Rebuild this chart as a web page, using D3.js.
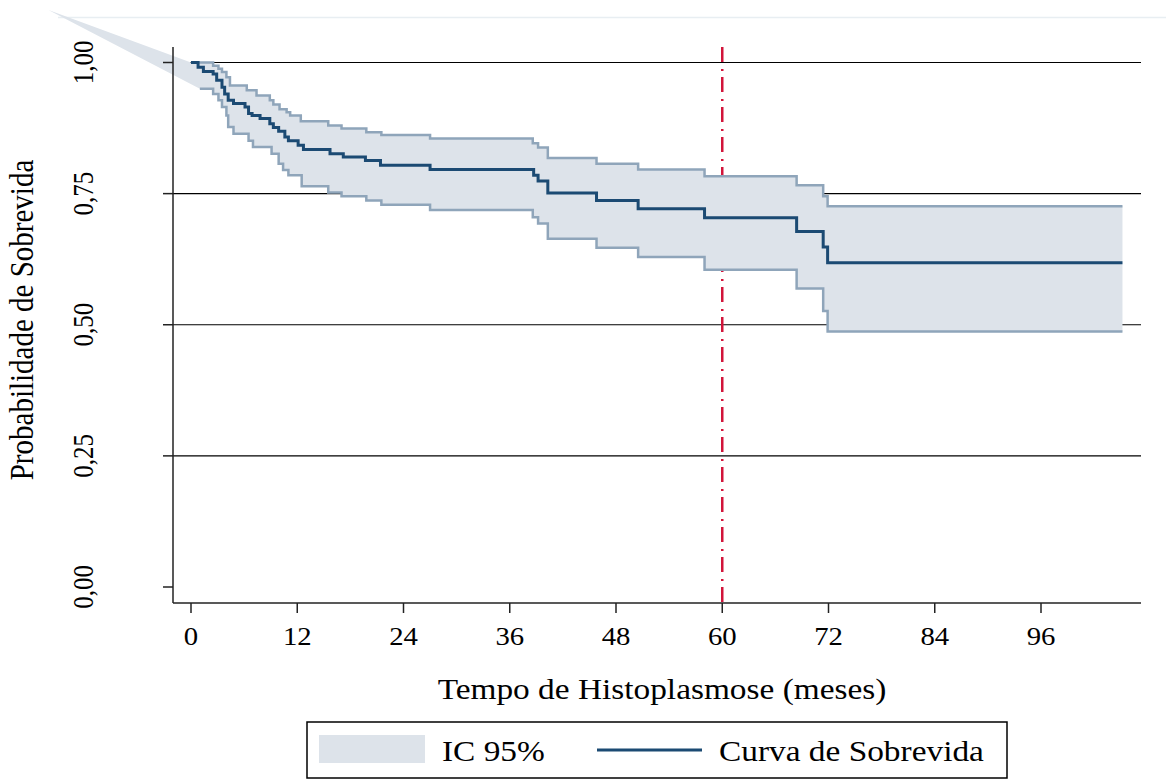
<!DOCTYPE html>
<html>
<head>
<meta charset="utf-8">
<script src="https://cdn.jsdelivr.net/npm/d3@7"></script>
<style>
  body { margin: 0; background: #fff; }
  text { font-family: "Liberation Serif", "Times New Roman", serif; fill: #000; }
</style>
</head>
<body>
<svg id="chart" width="1166" height="780"></svg>
<script>
// tempo (meses), probabilidade
var survival = [[0,1.0],[0.8,0.991],[1.4,0.983],[2.5,0.978],[2.9,0.966],[3.5,0.953],[3.8,0.940],[4.2,0.928],[4.8,0.922],[6.1,0.915],[6.5,0.903],[6.9,0.899],[7.8,0.893],[8.9,0.883],[9.3,0.876],[9.9,0.869],[10.6,0.858],[11.0,0.851],[12.1,0.842],[12.7,0.834],[15.7,0.826],[17.2,0.820],[19.7,0.813],[21.4,0.804],[27.0,0.796],[38.7,0.785],[39.2,0.774],[40.3,0.751],[45.8,0.737],[50.5,0.721],[58.0,0.704],[68.4,0.678],[71.4,0.648],[71.9,0.618],[105.2,0.618]]
var upperCI = [[0,1.0],[2.5,0.994],[3.1,0.988],[3.5,0.982],[4.0,0.972],[4.4,0.956],[6.3,0.947],[7.4,0.937],[8.9,0.928],[9.3,0.920],[10.0,0.911],[10.8,0.905],[11.2,0.899],[12.4,0.888],[15.5,0.880],[17.0,0.874],[19.8,0.867],[21.5,0.862],[27.0,0.855],[38.6,0.846],[39.2,0.838],[40.3,0.818],[45.8,0.807],[50.5,0.796],[58.0,0.783],[68.4,0.766],[71.4,0.745],[71.9,0.726],[105.2,0.726]]
var lowerCI = [[1.0,0.950],[2.5,0.940],[3.1,0.928],[3.5,0.915],[4.0,0.899],[4.2,0.877],[4.8,0.864],[6.5,0.851],[7.0,0.839],[9.1,0.826],[9.9,0.807],[10.4,0.795],[11.0,0.785],[12.5,0.764],[15.5,0.752],[17.0,0.745],[19.8,0.737],[21.5,0.729],[27.0,0.719],[38.6,0.705],[39.2,0.693],[40.3,0.664],[45.8,0.647],[50.5,0.629],[58.0,0.605],[68.4,0.569],[71.4,0.526],[71.9,0.487],[105.2,0.487]]
// ponto espurio de onde parte o poligono do IC
var ciOrigin = [-16.1, 1.1]
var xTicks = [0, 12, 24, 36, 48, 60, 72, 84, 96]
var yTicks = [0, 0.25, 0.5, 0.75, 1]
var gridValues = [0.25, 0.5, 0.75, 1]
var refLine = 60
var legendLabels = ['IC 95%', 'Curva de Sobrevida']

var ciFill = '#dde3ea', ciStroke = '#8fa5ba', curveColor = '#1b4a73', refColor = '#d2143a'
var sx = 1.15  // a figura original esta esticada na horizontal

var svg = d3.select('#chart')
var x = d3.scaleLinear().domain([0, 96]).range([191, 1041])
var y = d3.scaleLinear().domain([0, 1]).range([587, 62.5])
var plotLeft = 173, plotRight = 1141, plotBottom = 603, plotTop = 47

function fmt(v) { return d3.format('.2f')(v).replace('.', ',') }

function stepped(data) {
  var pts = []
  data.forEach(function (d, i) {
    if (i > 0) pts.push([d[0], data[i - 1][1]])
    pts.push(d)
  })
  return pts
}

// borda clara do plotregion
svg.append('line')
  .attr('x1', 58).attr('x2', 1166).attr('y1', 17.5).attr('y2', 17.5)
  .attr('stroke', '#e8eef2').attr('stroke-width', 1.5)

svg.append('g').selectAll('line').data(gridValues).join('line')
  .attr('x1', plotLeft).attr('x2', plotRight)
  .attr('y1', function (d) { return y(d) }).attr('y2', function (d) { return y(d) })
  .attr('stroke', '#000').attr('stroke-width', 1.2)

svg.append('line')
  .attr('x1', x(refLine)).attr('x2', x(refLine)).attr('y1', plotTop).attr('y2', plotBottom)
  .attr('stroke', refColor).attr('stroke-width', 2.5)
  .attr('stroke-dasharray', '15,7,2,6')

var poly = [ciOrigin].concat(stepped(upperCI), stepped(lowerCI).reverse())
svg.append('path')
  .attr('d', d3.line().x(function (d) { return x(d[0]) }).y(function (d) { return y(d[1]) })(poly) + 'Z')
  .attr('fill', ciFill)

var step = d3.line().curve(d3.curveStepAfter)
  .x(function (d) { return x(d[0]) }).y(function (d) { return y(d[1]) })

;[upperCI, lowerCI].forEach(function (s) {
  svg.append('path').attr('d', step(s))
    .attr('fill', 'none').attr('stroke', ciStroke).attr('stroke-width', 2.5)
})

svg.append('path').attr('d', step(survival))
  .attr('fill', 'none').attr('stroke', curveColor).attr('stroke-width', 3)

// eixos
var axisColor = '#222'
svg.append('line').attr('x1', plotLeft).attr('x2', plotLeft).attr('y1', plotTop).attr('y2', plotBottom)
  .attr('stroke', axisColor).attr('stroke-width', 1.5)
svg.append('line').attr('x1', plotLeft).attr('x2', plotRight).attr('y1', plotBottom).attr('y2', plotBottom)
  .attr('stroke', axisColor).attr('stroke-width', 1.5)

var yt = svg.append('g').selectAll('g').data(yTicks).join('g')
yt.append('line').attr('x1', plotLeft - 10).attr('x2', plotLeft)
  .attr('y1', function (d) { return y(d) }).attr('y2', function (d) { return y(d) })
  .attr('stroke', axisColor).attr('stroke-width', 1.5)
yt.append('text')
  .attr('transform', function (d) { return 'translate(93,' + y(d) + ') scale(' + sx + ',1) rotate(-90)' })
  .attr('text-anchor', 'middle').attr('font-size', 25)
  .text(fmt)

var xt = svg.append('g').selectAll('g').data(xTicks).join('g')
xt.append('line').attr('y1', plotBottom).attr('y2', plotBottom + 10)
  .attr('x1', function (d) { return x(d) }).attr('x2', function (d) { return x(d) })
  .attr('stroke', axisColor).attr('stroke-width', 1.5)
xt.append('text')
  .attr('transform', function (d) { return 'translate(' + x(d) + ',645) scale(' + sx + ',1)' })
  .attr('text-anchor', 'middle').attr('font-size', 25)
  .text(function (d) { return d })

svg.append('text')
  .attr('transform', 'translate(33,320) scale(' + sx + ',1) rotate(-90)')
  .attr('text-anchor', 'middle').attr('font-size', 29)
  .text('Probabilidade de Sobrevida')

svg.append('text')
  .attr('transform', 'translate(662,699) scale(' + sx + ',1)')
  .attr('text-anchor', 'middle').attr('font-size', 29)
  .text('Tempo de Histoplasmose (meses)')

// legenda
var legend = svg.append('g')
legend.append('rect').attr('x', 307).attr('y', 722).attr('width', 700).attr('height', 56)
  .attr('fill', '#fff').attr('stroke', '#000').attr('stroke-width', 1.5)
legend.append('rect').attr('x', 319).attr('y', 735).attr('width', 106).attr('height', 28)
  .attr('fill', ciFill)
legend.append('line').attr('x1', 597).attr('x2', 702).attr('y1', 750).attr('y2', 750)
  .attr('stroke', curveColor).attr('stroke-width', 3)
legend.selectAll('text.lab').data(legendLabels).join('text')
  .attr('class', 'lab')
  .attr('transform', function (d, i) { return 'translate(' + [442, 719][i] + ',761) scale(' + sx + ',1)' })
  .attr('font-size', 29)
  .text(function (d) { return d })
</script>
</body>
</html>
